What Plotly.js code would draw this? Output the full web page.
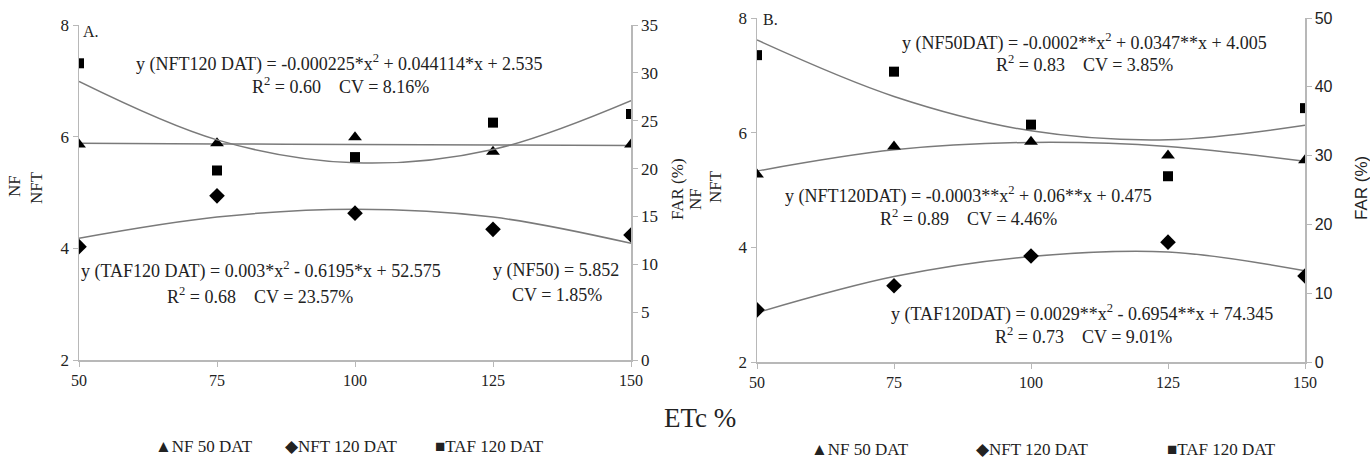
<!DOCTYPE html>
<html><head><meta charset="utf-8">
<script src="https://cdn.plot.ly/plotly-3.0.1.min.js"></script>
<style>html,body{margin:0;padding:0;background:#fff}#chart{width:1370px;height:463px}</style>
</head><body><div id="chart"></div>
<script>
const etc = [50, 75, 100, 125, 150];
// Panel A
const a_nf50 = [5.86, 5.88, 5.99, 5.73, 5.86];
const a_nft120 = [4.03, 4.94, 4.63, 4.34, 4.24];
const a_taf120 = [31.0, 19.8, 21.2, 24.8, 25.7];
const a_nf50_fit = [5.88, 5.87, 5.86, 5.85, 5.84];
const a_nft120_fit = [4.18, 4.56, 4.70, 4.56, 4.09];
const a_taf120_fit = [29.1, 23.0, 20.6, 22.0, 27.1];
// Panel B
const b_nf50 = [5.27, 5.76, 5.84, 5.60, 5.52];
const b_nft120 = [2.91, 3.33, 3.85, 4.09, 3.50];
const b_taf120 = [44.6, 42.2, 34.5, 27.0, 36.9];
const b_nf50_fit = [5.33, 5.70, 5.83, 5.76, 5.50];
const b_nft120_fit = [2.86, 3.49, 3.84, 3.92, 3.59];
const b_taf120_fit = [46.8, 38.6, 33.6, 32.3, 34.4];

const W = 1370, H = 463;
const px = x => x / W, py = y => 1 - y / H;
const serif = 'Liberation Serif';
const sans = 'Liberation Sans';
const lineC = '#7a7a7a', axC = '#b8b8b8';

function fit(y, xa, ya) {
  return {x: etc, y: y, xaxis: xa, yaxis: ya, mode: 'lines', line: {shape: 'spline', color: lineC, width: 1.5}, showlegend: false, hoverinfo: 'skip'};
}
function pts(y, xa, ya, sym, size) {
  return {x: etc, y: y, xaxis: xa, yaxis: ya, mode: 'markers', marker: {symbol: sym, size: size, color: '#000'}, showlegend: false};
}
const data = [
  fit(a_nf50_fit, 'x', 'y'), fit(a_nft120_fit, 'x', 'y'), fit(a_taf120_fit, 'x', 'y2'),
  fit(b_nf50_fit, 'x2', 'y3'), fit(b_nft120_fit, 'x2', 'y3'), fit(b_taf120_fit, 'x2', 'y4'),
  pts(a_nf50, 'x', 'y', 'triangle-up', 12), pts(a_nft120, 'x', 'y', 'diamond', 12), pts(a_taf120, 'x', 'y2', 'square', 10),
  pts(b_nf50, 'x2', 'y3', 'triangle-up', 12), pts(b_nft120, 'x2', 'y3', 'diamond', 12), pts(b_taf120, 'x2', 'y4', 'square', 10)
];

const axBase = {showline: true, linecolor: axC, linewidth: 1.5, ticks: 'outside', ticklen: 5, tickcolor: axC, showgrid: false, zeroline: false, fixedrange: true};
const tf = (f, s) => ({family: f, size: s, color: '#222'});

const layout = {
  width: W, height: H, margin: {l: 0, r: 0, t: 0, b: 0}, paper_bgcolor: '#fff', plot_bgcolor: 'rgba(0,0,0,0)',
  showlegend: false,
  font: {family: serif, size: 15, color: '#222'},
  xaxis: Object.assign({}, axBase, {domain: [px(79), px(631)], range: [50, 150], tickvals: etc, anchor: 'y', tickfont: tf(serif, 16)}),
  yaxis: Object.assign({}, axBase, {domain: [py(360), py(25)], range: [2, 8], tickvals: [2, 4, 6, 8], anchor: 'x', tickfont: tf(serif, 17)}),
  yaxis2: Object.assign({}, axBase, {overlaying: 'y', side: 'right', range: [0, 35], tickvals: [0, 5, 10, 15, 20, 25, 30, 35], anchor: 'x', tickfont: tf(serif, 17)}),
  xaxis2: Object.assign({}, axBase, {domain: [px(757), px(1305)], range: [50, 150], tickvals: etc, anchor: 'y3', tickfont: tf(serif, 16)}),
  yaxis3: Object.assign({}, axBase, {domain: [py(362), py(18)], range: [2, 8], tickvals: [2, 4, 6, 8], anchor: 'x2', tickfont: tf(serif, 17)}),
  yaxis4: Object.assign({}, axBase, {overlaying: 'y3', side: 'right', range: [0, 50], tickvals: [0, 10, 20, 30, 40, 50], anchor: 'x2', tickfont: tf(sans, 16)}),
  annotations: []
};

function ann(text, x, y, size, font, extra) {
  layout.annotations.push(Object.assign({text: text, x: px(x), y: py(y), xref: 'paper', yref: 'paper', showarrow: false, xanchor: 'center', yanchor: 'middle', font: {family: font || serif, size: size || 16, color: '#222'}}, extra || {}));
}
const E = 18;
// Panel labels
ann('A.', 91, 32, 16);
ann('B.', 771, 19, 16);
// Panel A equations
ann('y (NFT120 DAT) = -0.000225*x<sup>2</sup> + 0.044114*x + 2.535', 339, 63, E);
ann('R<sup>2</sup> = 0.60    CV = 8.16%', 340, 86, E);
ann('y (TAF120 DAT) = 0.003*x<sup>2</sup> - 0.6195*x + 52.575', 261, 270, E);
ann('R<sup>2</sup> = 0.68    CV = 23.57%', 260, 295, E);
ann('y (NF50) = 5.852', 556, 270, E);
ann('CV = 1.85%', 557, 295, E);
// Panel B equations
ann('y (NF50DAT) = -0.0002**x<sup>2</sup> + 0.0347**x + 4.005', 1084, 42, E);
ann('R<sup>2</sup> = 0.83    CV = 3.85%', 1084, 63, E);
ann('y (NFT120DAT) = -0.0003**x<sup>2</sup> + 0.06**x + 0.475', 969, 195, E);
ann('R<sup>2</sup> = 0.89    CV = 4.46%', 968, 217, E);
ann('y (TAF120DAT) = 0.0029**x<sup>2</sup> - 0.6954**x + 74.345', 1082, 313, E);
ann('R<sup>2</sup> = 0.73    CV = 9.01%', 1083, 335, E);
// Axis titles
ann('NF', 15, 186, 17, serif, {textangle: -90});
ann('NFT', 37, 188, 17, serif, {textangle: -90});
ann('FAR (%)', 677, 189, 17, serif, {textangle: -90});
ann('NF', 695, 199, 17, serif, {textangle: -90});
ann('NFT', 715, 187, 17, serif, {textangle: -90});
ann('FAR (%)', 1362, 188, 17, sans, {textangle: -90});
ann('ETc %', 700, 418, 27);
// Legends
ann('▲NF 50 DAT', 204, 446, 17);
ann('◆NFT 120 DAT', 341, 446, 17);
ann('■TAF 120 DAT', 489, 446, 17);
ann('▲NF 50 DAT', 860, 449, 17);
ann('◆NFT 120 DAT', 1032, 449, 17);
ann('■TAF 120 DAT', 1221, 449, 17);

Plotly.newPlot('chart', data, layout, {displayModeBar: false, staticPlot: true});
</script>
</body></html>
